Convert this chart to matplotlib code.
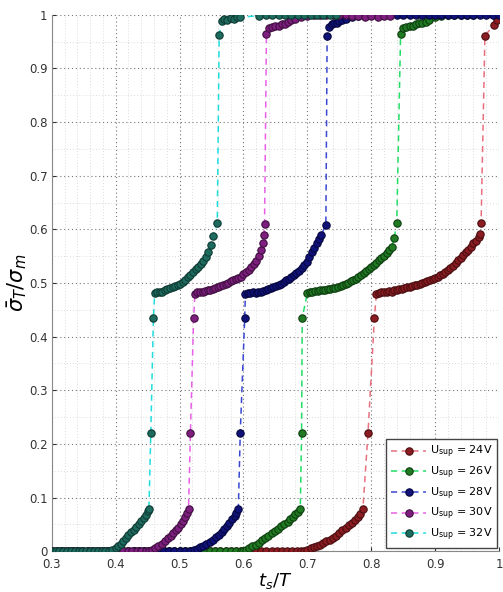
import matplotlib
matplotlib.use("Agg")
import matplotlib.pyplot as plt
from matplotlib.ticker import MultipleLocator

plt.rcParams['font.family'] = ['DejaVu Sans']
plt.rcParams['mathtext.fontset'] = 'dejavusans'

labels = ['U$_{\\rm sup}$ = 24V', 'U$_{\\rm sup}$ = 26V', 'U$_{\\rm sup}$ = 28V',
          'U$_{\\rm sup}$ = 30V', 'U$_{\\rm sup}$ = 32V']
line_colors = ['#E8707E', '#22DD66', '#3A48D0', '#E860E8', '#22DDDD']
marker_colors = ['#8A1C22', '#1F7A22', '#10127A', '#7E1E7E', '#1D6B5E']
edge_colors = ['#4A0E10', '#0E3D10', '#05063D', '#3F0F3F', '#0E3A32']

# 24V
x24 = [0.300, 0.308, 0.316, 0.324, 0.332, 0.340, 0.348, 0.356, 0.364, 0.372, 0.380, 0.388,
       0.396, 0.404, 0.412, 0.420, 0.428, 0.436, 0.444, 0.452, 0.460, 0.468, 0.476, 0.484,
       0.492, 0.500, 0.508, 0.516, 0.524, 0.532, 0.540, 0.548, 0.556, 0.564, 0.572, 0.580,
       0.588, 0.596, 0.604, 0.612, 0.620, 0.628, 0.636, 0.644, 0.652, 0.660, 0.668, 0.676,
       0.684, 0.690,
       0.695, 0.700, 0.705, 0.710, 0.715, 0.720, 0.725, 0.730, 0.735, 0.740, 0.745, 0.750,
       0.755, 0.760, 0.765, 0.770, 0.775, 0.779, 0.783, 0.787,
       0.795, 0.805,
       0.808, 0.812, 0.816, 0.820, 0.824, 0.828, 0.832, 0.836, 0.840, 0.844, 0.848, 0.852,
       0.856, 0.860, 0.864, 0.868, 0.872, 0.876, 0.880, 0.884, 0.888, 0.892, 0.896, 0.900,
       0.904, 0.908, 0.912, 0.916, 0.920, 0.924, 0.928, 0.932, 0.936, 0.940, 0.944, 0.948,
       0.952, 0.956, 0.960, 0.964, 0.968, 0.970, 0.972,
       0.978, 0.992, 0.997]
y24 = [0, 0, 0, 0, 0, 0, 0, 0, 0, 0, 0, 0,
       0, 0, 0, 0, 0, 0, 0, 0, 0, 0, 0, 0,
       0, 0, 0, 0, 0, 0, 0, 0, 0, 0, 0, 0,
       0, 0, 0, 0, 0, 0, 0, 0, 0, 0, 0, 0,
       0, 0,
       0.001, 0.003, 0.005, 0.007, 0.009, 0.012, 0.015, 0.018, 0.021, 0.025, 0.029, 0.034,
       0.039, 0.044, 0.048, 0.053, 0.058, 0.063, 0.070, 0.079,
       0.221, 0.435,
       0.479, 0.482, 0.484, 0.483, 0.484, 0.485, 0.484, 0.486, 0.487, 0.488, 0.489, 0.490,
       0.492, 0.493, 0.494, 0.496, 0.497, 0.499, 0.500, 0.502, 0.504, 0.506, 0.508, 0.510,
       0.512, 0.514, 0.517, 0.520, 0.524, 0.528, 0.532, 0.537, 0.542, 0.547, 0.552, 0.557,
       0.562, 0.568, 0.574, 0.579, 0.586, 0.592, 0.612,
       0.961, 0.981, 0.990]

# 26V
x26 = [0.300, 0.308, 0.316, 0.324, 0.332, 0.340, 0.348, 0.356, 0.364, 0.372, 0.380, 0.388,
       0.396, 0.404, 0.412, 0.420, 0.428, 0.436, 0.444, 0.452, 0.460, 0.468, 0.476, 0.484,
       0.492, 0.500, 0.508, 0.516, 0.524, 0.532, 0.540, 0.548, 0.556, 0.564, 0.572, 0.580,
       0.588, 0.596, 0.600,
       0.604, 0.609, 0.614, 0.619, 0.624, 0.629, 0.634, 0.639, 0.644, 0.649, 0.654, 0.659,
       0.664, 0.669, 0.673, 0.677, 0.681, 0.685, 0.689,
       0.691, 0.692,
       0.700, 0.704, 0.708, 0.712, 0.716, 0.720, 0.724, 0.728, 0.732, 0.736, 0.740, 0.744,
       0.748, 0.752, 0.756, 0.760, 0.764, 0.768, 0.772, 0.776, 0.780, 0.784, 0.788, 0.792,
       0.796, 0.800, 0.804, 0.808, 0.812, 0.816, 0.820, 0.824, 0.828, 0.832, 0.836, 0.840,
       0.846, 0.850, 0.855, 0.860, 0.865, 0.870, 0.875, 0.880, 0.885, 0.890, 0.900, 0.910,
       0.920, 0.930, 0.940, 0.950, 0.960]
y26 = [0, 0, 0, 0, 0, 0, 0, 0, 0, 0, 0, 0,
       0, 0, 0, 0, 0, 0, 0, 0, 0, 0, 0, 0,
       0, 0, 0, 0, 0, 0, 0, 0, 0, 0, 0, 0,
       0, 0, 0.001,
       0.003, 0.006, 0.009, 0.012, 0.016, 0.020, 0.024, 0.029, 0.033, 0.037, 0.041, 0.046,
       0.050, 0.055, 0.060, 0.064, 0.069, 0.073, 0.079,
       0.221, 0.435,
       0.481, 0.483, 0.484, 0.485, 0.485, 0.486, 0.486, 0.487, 0.488, 0.489, 0.490, 0.491,
       0.493, 0.494, 0.496, 0.498, 0.500, 0.503, 0.505, 0.508, 0.511, 0.515, 0.518, 0.522,
       0.526, 0.530, 0.534, 0.538, 0.542, 0.546, 0.551, 0.556, 0.561, 0.567, 0.584, 0.612,
       0.964, 0.975, 0.978, 0.980, 0.979, 0.982, 0.984, 0.985, 0.987, 0.990, 0.995, 0.997,
       0.999, 1.000, 1.000, 1.000, 1.000]

# 28V
x28 = [0.300, 0.308, 0.316, 0.324, 0.332, 0.340, 0.348, 0.356, 0.364, 0.372, 0.380, 0.388,
       0.396, 0.404, 0.412, 0.420, 0.428, 0.436, 0.444, 0.452, 0.460, 0.468, 0.476, 0.484,
       0.492, 0.500, 0.508, 0.516,
       0.522, 0.527, 0.532, 0.537, 0.542, 0.547, 0.552, 0.557, 0.562, 0.566, 0.570, 0.574,
       0.578, 0.582, 0.586, 0.589, 0.592,
       0.595, 0.602,
       0.603, 0.607, 0.611, 0.615, 0.619, 0.623, 0.627, 0.631, 0.635, 0.639, 0.643, 0.647,
       0.651, 0.655, 0.659, 0.663, 0.667, 0.671, 0.675, 0.679, 0.683, 0.687, 0.691, 0.695,
       0.699, 0.703, 0.707, 0.711, 0.715, 0.719, 0.722, 0.729,
       0.731, 0.734, 0.738, 0.742, 0.746, 0.750, 0.755, 0.760, 0.770, 0.780, 0.790, 0.800,
       0.810, 0.820, 0.830, 0.840, 0.850, 0.860, 0.870, 0.880, 0.890, 0.900, 0.910, 0.920,
       0.930, 0.940, 0.950, 0.960, 0.970, 0.980, 0.990, 1.000]
y28 = [0, 0, 0, 0, 0, 0, 0, 0, 0, 0, 0, 0,
       0, 0, 0, 0, 0, 0, 0, 0, 0, 0, 0, 0,
       0, 0, 0, 0,
       0.002, 0.004, 0.007, 0.010, 0.013, 0.017, 0.021, 0.026, 0.031, 0.036, 0.041, 0.047,
       0.053, 0.060, 0.066, 0.072, 0.079,
       0.221, 0.435,
       0.479, 0.481, 0.482, 0.483, 0.482, 0.484, 0.484, 0.485, 0.487, 0.488, 0.490, 0.492,
       0.494, 0.496, 0.499, 0.502, 0.505, 0.508, 0.511, 0.515, 0.519, 0.523, 0.528, 0.534,
       0.540, 0.548, 0.557, 0.566, 0.574, 0.582, 0.590, 0.609,
       0.961, 0.978, 0.982, 0.985, 0.984, 0.988, 0.990, 0.993, 0.996, 0.998, 0.999, 1.000,
       1.000, 0.999, 1.000, 1.000, 1.000, 0.999, 1.000, 1.000, 1.000, 1.000, 0.999, 1.000,
       1.000, 1.000, 1.000, 1.000, 0.999, 1.000, 1.000, 1.000]

# 30V
x30 = [0.300, 0.307, 0.314, 0.321, 0.328, 0.335, 0.342, 0.349, 0.356, 0.363, 0.370, 0.377,
       0.384, 0.391, 0.398, 0.405, 0.412, 0.419, 0.426, 0.433, 0.440, 0.447, 0.452,
       0.457, 0.462, 0.467, 0.472, 0.477, 0.482, 0.486, 0.490, 0.494, 0.498, 0.502, 0.506,
       0.509, 0.512, 0.514,
       0.517, 0.522,
       0.524, 0.528, 0.532, 0.536, 0.540, 0.544, 0.548, 0.552, 0.556, 0.560, 0.564, 0.568,
       0.572, 0.576, 0.580, 0.584, 0.588, 0.592, 0.596, 0.600, 0.604, 0.608, 0.612, 0.616,
       0.620, 0.624, 0.627, 0.630, 0.632, 0.633,
       0.636, 0.640, 0.645, 0.650, 0.655, 0.660, 0.665, 0.670, 0.675, 0.680, 0.690, 0.700,
       0.710, 0.720, 0.730, 0.740, 0.750, 0.760, 0.770, 0.780, 0.790, 0.800, 0.810, 0.820,
       0.830]
y30 = [0, 0, 0, 0, 0, 0, 0, 0, 0, 0, 0, 0,
       0, 0, 0, 0, 0, 0, 0, 0, 0, 0, 0,
       0.002, 0.005, 0.009, 0.014, 0.019, 0.024, 0.029, 0.034, 0.039, 0.044, 0.050, 0.057,
       0.064, 0.071, 0.079,
       0.221, 0.435,
       0.480, 0.483, 0.484, 0.483, 0.485, 0.487, 0.486, 0.489, 0.491, 0.493, 0.495, 0.497,
       0.499, 0.500, 0.503, 0.505, 0.507, 0.509, 0.512, 0.516, 0.520, 0.524, 0.529, 0.535,
       0.541, 0.550, 0.562, 0.575, 0.589, 0.610,
       0.964, 0.975, 0.978, 0.980, 0.979, 0.983, 0.982, 0.986, 0.990, 0.993, 0.996, 0.998,
       0.999, 1.000, 1.000, 0.999, 1.000, 1.000, 0.998, 0.997, 0.996, 0.997, 0.996, 0.997,
       0.998]

# 32V
x32 = [0.300, 0.306, 0.312, 0.318, 0.324, 0.330, 0.336, 0.342, 0.348, 0.354, 0.360, 0.366,
       0.372, 0.378, 0.384, 0.390, 0.395,
       0.400, 0.404, 0.408, 0.412, 0.416, 0.420, 0.424, 0.428, 0.432, 0.436, 0.440, 0.444,
       0.447, 0.450, 0.452,
       0.455, 0.459,
       0.461, 0.465, 0.469, 0.473, 0.477, 0.481, 0.485, 0.489, 0.493, 0.497, 0.501, 0.505,
       0.509, 0.513, 0.517, 0.521, 0.525, 0.529, 0.533, 0.537, 0.541, 0.545, 0.549, 0.553,
       0.559,
       0.562, 0.566, 0.570, 0.575, 0.580, 0.585, 0.590, 0.595,
       0.625, 0.635, 0.645, 0.655, 0.665, 0.675, 0.685, 0.695, 0.705, 0.715, 0.725, 0.735,
       0.745]
y32 = [0, 0, 0, 0, 0, 0, 0, 0, 0, 0, 0, 0,
       0, 0, 0, 0, 0.002,
       0.005, 0.009, 0.013, 0.018, 0.024, 0.030, 0.035, 0.040, 0.045, 0.050, 0.056, 0.062,
       0.068, 0.074, 0.079,
       0.221, 0.435,
       0.481, 0.484, 0.483, 0.484, 0.486, 0.488, 0.490, 0.492, 0.494, 0.496, 0.499, 0.502,
       0.506, 0.511, 0.515, 0.521, 0.526, 0.530, 0.536, 0.541, 0.549, 0.558, 0.570, 0.588,
       0.612,
       0.962, 0.988, 0.992, 0.990, 0.994, 0.993, 0.995, 0.996,
       0.998, 1.000, 0.999, 1.000, 1.000, 1.000, 0.999, 1.000, 1.000, 1.000, 1.000, 1.000,
       1.000]

xs = [x24, x26, x28, x30, x32]
ys = [y24, y26, y28, y30, y32]

xticks = [0.3, 0.4, 0.5, 0.6, 0.7, 0.8, 0.9, 1.0]
xticklabels = ['0.3', '0.4', '0.5', '0.6', '0.7', '0.8', '0.9', '1']
yticks = [0, 0.1, 0.2, 0.3, 0.4, 0.5, 0.6, 0.7, 0.8, 0.9, 1.0]
yticklabels = ['0', '0.1', '0.2', '0.3', '0.4', '0.5', '0.6', '0.7', '0.8', '0.9', '1']

fig = plt.figure(figsize=(5.03, 5.92), dpi=100)
ax = fig.add_axes([0.103, 0.069, 0.889, 0.906])

for i in range(5):
    ax.plot(xs[i], ys[i], linestyle=(0, (4, 3)), color=line_colors[i], linewidth=1.1,
            marker='o', markersize=5.3, markerfacecolor=marker_colors[i],
            markeredgecolor=edge_colors[i], markeredgewidth=0.8,
            label=labels[i], zorder=3)

ax.set_xlim(0.3, 1.0)
ax.set_ylim(0, 1.0)
ax.set_xticks(xticks)
ax.set_xticklabels(xticklabels)
ax.set_yticks(yticks)
ax.set_yticklabels(yticklabels)
ax.xaxis.set_minor_locator(MultipleLocator(0.02))
ax.yaxis.set_minor_locator(MultipleLocator(0.05))
ax.tick_params(which='major', direction='in', length=3, labelsize=8.5, colors='#333333')
ax.tick_params(axis='x', which='major', pad=5)
ax.tick_params(axis='y', which='major', pad=3)
ax.tick_params(which='minor', direction='in', length=0)
ax.grid(which='major', linestyle=(0, (1, 2.5)), color='#777777', linewidth=0.8)
ax.grid(which='minor', linestyle=(0, (1, 2.5)), color='#cfcfcf', linewidth=0.6)
ax.set_axisbelow(True)
for s in ['top', 'right']:
    ax.spines[s].set_visible(False)
for s in ['left', 'bottom']:
    ax.spines[s].set_color('#888888')

ax.set_xlabel(r'$t_s/T$', fontsize=13, labelpad=0)
ax.set_ylabel(r'$\bar{\sigma}_T/\sigma_m$', fontsize=15, labelpad=0)

leg = ax.legend(loc='lower right', bbox_to_anchor=(0.996, 0.006), borderaxespad=0,
                fontsize=8, labelspacing=0.38, handlelength=3.2, handletextpad=0.3,
                fancybox=False, framealpha=1, edgecolor='#444444', borderpad=0.45)
leg.get_frame().set_linewidth(1.0)

fig.savefig('out.png', dpi=100)
